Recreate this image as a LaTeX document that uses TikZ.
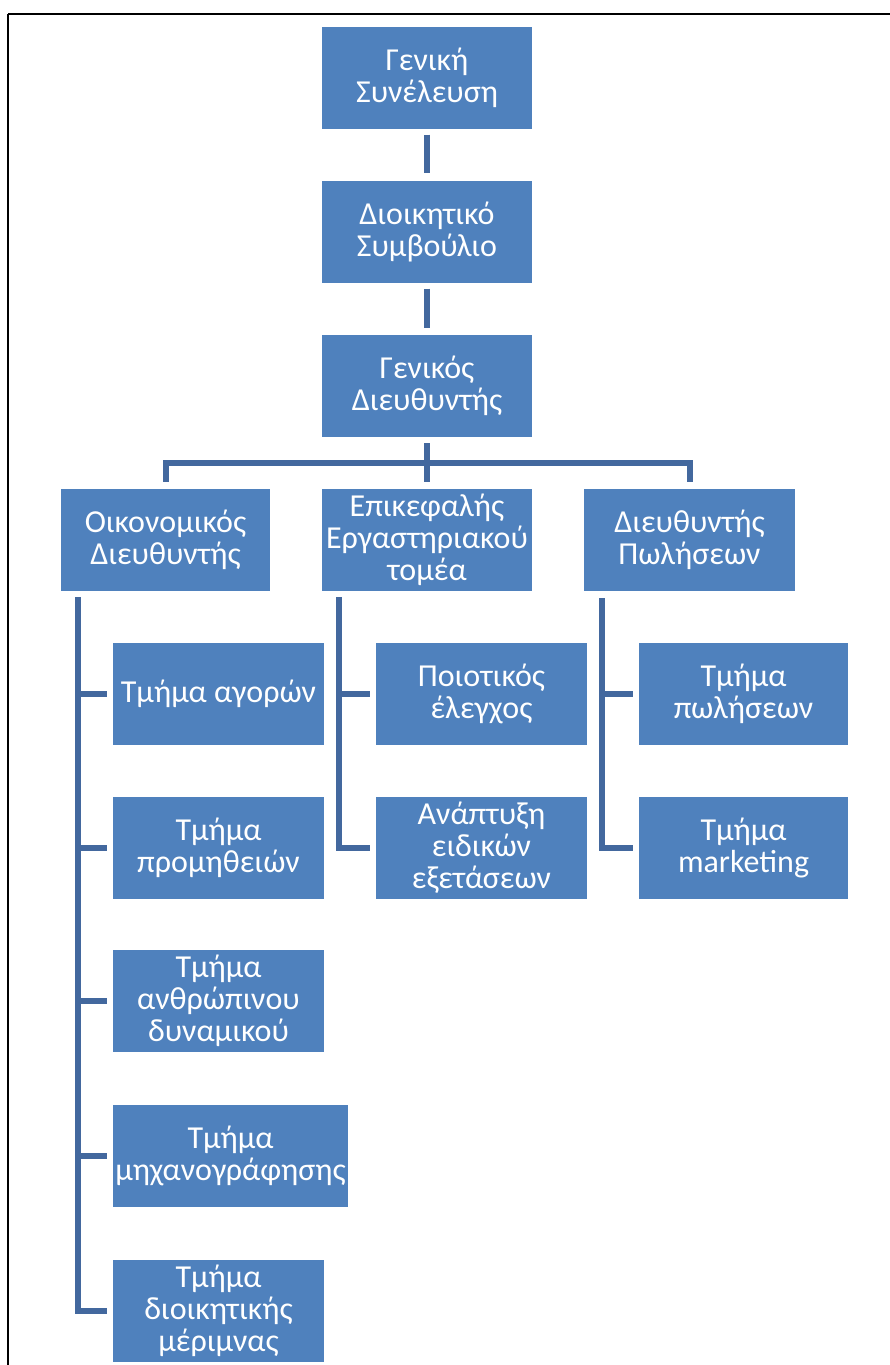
\documentclass[tikz,border=0pt]{standalone}
\usepackage{fontspec}
\setmainfont{Carlito}
\usetikzlibrary{calc}
\definecolor{boxblue}{HTML}{4F81BD}
\definecolor{lineblue}{HTML}{43689E}
\tikzset{
  orgbox/.style={fill=boxblue, text=white, inner sep=0pt, align=center,
    minimum height=102pt, font=\fontsize{32}{32}\selectfont},
  conn/.style={draw=lineblue, line width=6pt, line join=miter},
  frame/.style={draw=black, line width=2pt}
}
\begin{document}
\begin{tikzpicture}[x=1pt,y=-1pt]
\useasboundingbox (0,0) rectangle (890,1365);
\fill[white] (0,0) rectangle (890,1365);
\draw[frame] (8,14) -- (891,14);
\draw[frame] (8,14) -- (8,1366);

% level 0-2
\node[orgbox, minimum width=210pt] (gs) at (427,77.5) {Γενική\\Συνέλευση};
\node[orgbox, minimum width=210pt] (ds) at (427,231.5) {Διοικητικό\\Συμβούλιο};
\node[orgbox, minimum width=210pt] (gd) at (427,386) {Γενικός\\Διευθυντής};

% level 3
\node[orgbox, minimum width=209pt] (od) at (165.5,540) {Οικονομικός\\Διευθυντής};
\node[orgbox, minimum width=210pt] (ee) at (427,540) {Επικεφαλής\\Εργαστηριακού\\τομέα};
\node[orgbox, minimum width=211pt] (dp) at (689.5,540) {Διευθυντής\\Πωλήσεων};

% left column
\node[orgbox, minimum width=211pt] (ta) at (218.5,694) {Τμήμα αγορών};
\node[orgbox, minimum width=211pt] (tp) at (218.5,847.5) {Τμήμα\\προμηθειών};
\node[orgbox, minimum width=211pt] (tad) at (218.5,1001) {Τμήμα\\ανθρώπινου\\δυναμικού};
\node[orgbox, minimum width=235pt] (tm) at (230.5,1156) {Τμήμα\\μηχανογράφησης};
\node[orgbox, minimum width=211pt] (tdm) at (218.5,1310.5) {Τμήμα\\διοικητικής\\μέριμνας};

% middle column
\node[orgbox, minimum width=211pt] (pe) at (481.5,694) {Ποιοτικός\\έλεγχος};
\node[orgbox, minimum width=211pt] (aee) at (481.5,847.5) {Ανάπτυξη\\ειδικών\\εξετάσεων};

% right column
\node[orgbox, minimum width=209pt] (tpo) at (743.5,694) {Τμήμα\\πωλήσεων};
\node[orgbox, minimum width=209pt] (tmk) at (743.5,847.5) {Τμήμα\\marketing};

% vertical chain
\draw[conn] ([yshift=-6]gs.south) -- ([yshift=7]ds.north);
\draw[conn] ([yshift=-6]ds.south) -- ([yshift=7]gd.north);

% bus
\coordinate (bus) at ($(gd.south)!0.5!(ee.north)$);
\draw[conn] ([yshift=-6]gd.south) -- ([yshift=7]ee.north);
\draw[conn] ([yshift=7]od.north) |- (bus) -| ([yshift=7]dp.north);

% left spine
\coordinate (ls) at ([xshift=17,yshift=-6]od.south west);
\draw[conn] (ls) |- ([xshift=-6]tdm.west);
\draw[conn] (ls |- ta.west) -- ([xshift=-6]ta.west);
\draw[conn] (ls |- tp.west) -- ([xshift=-6]tp.west);
\draw[conn] (ls |- tad.west) -- ([xshift=-6]tad.west);
\draw[conn] (ls |- tm.west) -- ([xshift=-6]tm.west);

% middle spine
\coordinate (ms) at ([xshift=17,yshift=-6]ee.south west);
\draw[conn] (ms) |- ([xshift=-6]aee.west);
\draw[conn] (ms |- pe.west) -- ([xshift=-6]pe.west);

% right spine
\coordinate (rs) at ([xshift=18,yshift=-7]dp.south west);
\draw[conn] (rs) |- ([xshift=-6]tmk.west);
\draw[conn] (rs |- tpo.west) -- ([xshift=-6]tpo.west);
\end{tikzpicture}
\end{document}
